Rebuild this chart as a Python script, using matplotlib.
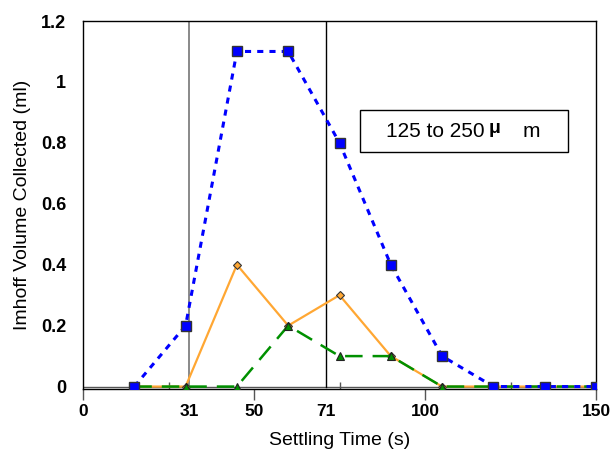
import matplotlib
matplotlib.use("Agg")
import matplotlib.pyplot as plt
from matplotlib.patches import Rectangle

plt.rcParams['font.family'] = ['Liberation Sans', 'DejaVu Sans']

# settling times (s) and collected volumes (ml)
time_s = [15, 30, 45, 60, 75, 90, 105, 120, 135, 150]
vol_blue = [0, 0.2, 1.1, 1.1, 0.8, 0.4, 0.1, 0, 0, 0]
vol_orange = [0, 0, 0.4, 0.2, 0.3, 0.1, 0, 0, 0, 0]
vol_green = [0, 0, 0, 0.2, 0.1, 0.1, 0, 0, 0, 0]

xtick_vals = [0, 31, 50, 71, 100, 150]
minor_vals = [25, 75, 125]
ytick_vals = [0, 0.2, 0.4, 0.6, 0.8, 1.0, 1.2]
ytick_labels = ["0", "0.2", "0.4", "0.6", "0.8", "1", "1.2"]
vline_gray = 31
vline_black = 71

fig = plt.figure(figsize=(6.13, 4.5), dpi=100)
ax = fig.add_axes([83/613, 1 - 389/450, (596 - 83)/613, (389 - 21)/450])

ax.set_xlim(0, 150)
ax.set_ylim(-0.008, 1.2)

ax.axhline(0, color='#555555', lw=1.0, zorder=1)
ax.axvline(vline_gray, ymin=0.0066, ymax=1, color='#808080', lw=1.3, zorder=1)
ax.axvline(vline_black, ymin=0.0066, ymax=1, color='black', lw=1.0, zorder=1)

ax.plot(time_s, vol_orange, color='#FFA733', lw=1.6, marker='D', ms=4,
        mfc='#FFA733', mec='#333333', mew=0.8, zorder=3)
ax.plot(time_s, vol_green, color='#009000', lw=1.8, ls=(0, (7, 4)), marker='^',
        ms=6, mfc='#009000', mec='#222222', mew=0.8, zorder=4)
ax.plot(time_s, vol_blue, color='#0000FF', lw=2.2, ls=(0, (2, 2)), marker='s',
        ms=7, mfc='#0000FF', mec='#333333', mew=1.0, zorder=5)

ax.set_xticks(xtick_vals)
ax.set_xticklabels([str(v) for v in xtick_vals], fontweight='bold', fontsize=12.5)
for i, v in enumerate(xtick_vals):
    if v in (vline_gray, vline_black):
        ax.xaxis.get_major_ticks()[i].tick1line.set_visible(False)
ax.set_xticks(minor_vals, minor=True)
ax.tick_params(axis='x', which='major', direction='out', length=8, width=1,
               color='#555555', pad=3)
ax.tick_params(axis='x', which='minor', direction='in', length=5, width=1,
               color='#555555')

ax.set_yticks(ytick_vals)
ax.set_yticklabels(ytick_labels, fontweight='bold', fontsize=13)
ax.tick_params(axis='y', length=0, pad=12)

ax.set_xlabel("Settling Time (s)", fontsize=14, labelpad=9)
ax.set_ylabel("Imhoff Volume Collected (ml)", fontsize=14, labelpad=7)

for s in ax.spines.values():
    s.set_linewidth(1.0)

# size-fraction label box
bx0, bx1 = (360 - 83)/513, (568 - 83)/513
by0, by1 = 1 - (152 - 21)/368, 1 - (110 - 21)/368
ax.add_patch(Rectangle((bx0, by0), bx1 - bx0, by1 - by0, transform=ax.transAxes,
                       fc='white', ec='black', lw=1.0, zorder=6))
ymid = 1 - (137 - 21)/368
ax.text((386 - 83)/513, ymid, "125 to 250", transform=ax.transAxes,
        fontsize=15, ha='left', va='baseline', zorder=7)
ax.text((489 - 83)/513, ymid + 0.012, "\u03bc", transform=ax.transAxes,
        fontsize=14, fontweight='bold', ha='left', va='baseline', zorder=7)
ax.text((523 - 83)/513, ymid, "m", transform=ax.transAxes,
        fontsize=15, ha='left', va='baseline', zorder=7)

fig.savefig("out.png", dpi=100)
